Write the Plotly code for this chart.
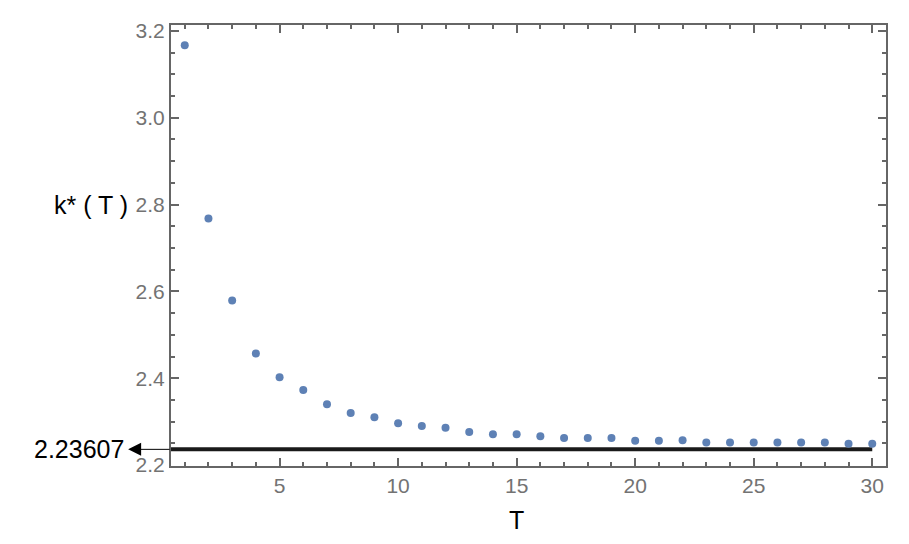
import plotly.graph_objects as go

T = list(range(1, 31))
k_star = [3.167, 2.768, 2.579, 2.457, 2.402, 2.373, 2.340, 2.320, 2.310, 2.296,
          2.290, 2.286, 2.276, 2.271, 2.271, 2.266, 2.262, 2.262, 2.262, 2.256,
          2.256, 2.257, 2.252, 2.252, 2.252, 2.252, 2.252, 2.252, 2.249, 2.249]
limit_value = 2.23607
limit_label = "2.23607"
x_ticks = [5, 10, 15, 20, 25, 30]
y_ticks = [2.2, 2.4, 2.6, 2.8, 3.0, 3.2]

FRAME = "#666666"
TICKFONT = dict(family="Liberation Sans, Arial, sans-serif", size=21, color="#737373")
LABELFONT = dict(family="Liberation Sans, Arial, sans-serif", size=25, color="black")

fig = go.Figure()
fig.add_trace(go.Scatter(x=[0.42, T[-1]], y=[limit_value, limit_value], mode="lines",
                         line=dict(color="#1a1a1a", width=4), hoverinfo="skip", showlegend=False))
fig.add_trace(go.Scatter(x=T, y=k_star, mode="markers",
                         marker=dict(color="#5E81B5", size=8), showlegend=False))

fig.update_xaxes(range=[0.42, 30.58], tickvals=x_ticks, ticktext=[str(v) for v in x_ticks],
                 ticks="inside", ticklen=8, tickwidth=2, tickcolor=FRAME,
                 minor=dict(dtick=1, tick0=0, ticks="inside", ticklen=4, tickwidth=2, tickcolor=FRAME),
                 showline=True, linecolor=FRAME, linewidth=2, mirror="ticks",
                 showgrid=False, zeroline=False, tickfont=TICKFONT)
fig.update_yaxes(range=[2.1977, 3.2138], tickvals=y_ticks, ticktext=["2.2", "2.4", "2.6", "2.8", "3.0", "3.2"],
                 ticks="inside", ticklen=8, tickwidth=2, tickcolor=FRAME,
                 minor=dict(dtick=0.05, tick0=0, ticks="inside", ticklen=4, tickwidth=2, tickcolor=FRAME),
                 showline=True, linecolor=FRAME, linewidth=2, mirror="ticks",
                 showgrid=False, zeroline=False, tickfont=TICKFONT)

fig.add_annotation(xref="paper", yref="y", x=-0.06, y=limit_value, ax=43, ay=0,
                   axref="pixel", ayref="pixel", text="", showarrow=True,
                   arrowhead=2, arrowsize=2.6, arrowwidth=1, arrowcolor="black")
fig.add_annotation(xref="paper", yref="y", x=-0.063, y=limit_value, text=limit_label,
                   showarrow=False, xanchor="right", yanchor="middle", font=LABELFONT)
fig.add_annotation(xref="paper", yref="y", x=-0.057, y=2.8, text="k* ( T )",
                   showarrow=False, xanchor="right", yanchor="middle", font=LABELFONT)
fig.add_annotation(xref="x", yref="paper", x=15, y=-0.122, text="T",
                   showarrow=False, xanchor="center", yanchor="middle", font=LABELFONT)

# the page body has an 8px margin, so the figure is shrunk by that amount
fig.update_layout(width=901, height=536, margin=dict(l=163, r=23, t=17, b=78),
                  plot_bgcolor="white", paper_bgcolor="white")
fig.write_html("out.html")
